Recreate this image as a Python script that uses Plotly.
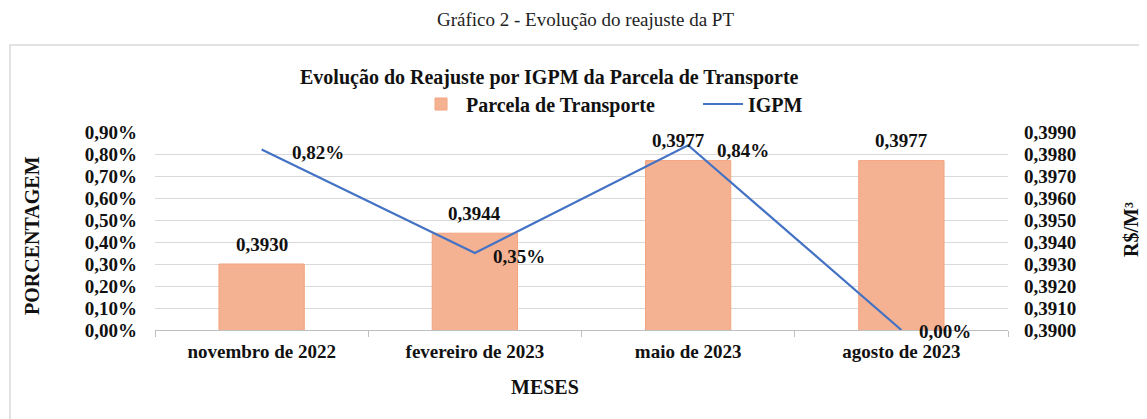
import plotly.graph_objects as go

categorias = ["novembro de 2022", "fevereiro de 2023", "maio de 2023", "agosto de 2023"]
parcela_transporte = [0.3930, 0.3944, 0.3977, 0.3977]   # R$/M³
igpm = [0.0082, 0.0035, 0.0084, 0.0000]                  # fraction (0,82%)

# label offsets (style only)
igpm_label_dx = [28, 16, 27, 16]
igpm_label_dy = [-3, -3, -5, -1]
bar_label_dx = [0, 0, -10, 0]

FONT = "Liberation Serif"
OFF = 8                       # browser body margin
W, H = 1147 - OFF, 419 - OFF
PX0, PX1, PY0, PY1 = 155, 1008, 132, 330   # plot area in reference pixels
L, R = PX0 - OFF, W - (PX1 - OFF)
T, B = PY0 - OFF, H - (PY1 - OFF)
pw, ph = PX1 - PX0, PY1 - PY0

def px_x(x):
    return (x - PX0) / pw

def px_y(y):
    return (PY1 - y) / ph

INK = "#111111"
fb = lambda s: dict(family=FONT, size=s, color=INK, weight="bold")

fig = go.Figure()
fig.add_trace(go.Bar(
    x=categorias, y=parcela_transporte, name="Parcela de Transporte",
    yaxis="y", width=0.4,
    marker=dict(color="#F5B292", line=dict(color="#F2A47F", width=1)),
    hoverinfo="skip",
))
fig.add_trace(go.Scatter(
    x=categorias, y=igpm, name="IGPM", mode="lines",
    yaxis="y2",
    line=dict(color="#4472C4", width=2.2),
))

# data labels
for c, v, dx in zip(categorias, parcela_transporte, bar_label_dx):
    fig.add_annotation(x=c, y=v, xref="x", yref="y", showarrow=False,
                       text=f"{v:.4f}".replace(".", ","), xanchor="center",
                       yanchor="middle", yshift=20, xshift=dx, font=fb(19))
for c, v, dx, dy in zip(categorias, igpm, igpm_label_dx, igpm_label_dy):
    fig.add_annotation(x=c, y=v, xref="x", yref="y2", showarrow=False,
                       text=f"{v*100:.2f}%".replace(".", ","), xanchor="left",
                       yanchor="middle", xshift=dx, yshift=dy, font=fb(19))

fig.update_layout(
    width=W, height=H,
    margin=dict(l=L, r=R, t=T, b=B, autoexpand=False),
    paper_bgcolor="white", plot_bgcolor="white",
    separators=",.",
    font=fb(19),
    showlegend=True,
    legend=dict(orientation="h", x=px_x(416), xanchor="left",
                y=px_y(104), yanchor="middle",
                font=fb(20), itemwidth=40, entrywidth=227,
                bgcolor="rgba(0,0,0,0)"),
    xaxis=dict(type="category", showgrid=False, showline=True,
               linecolor="#BFBFBF", linewidth=1, ticks="outside",
               tickson="boundaries", ticklen=6, tickcolor="#BFBFBF",
               ticklabelstandoff=4, tickfont=fb(19)),
    yaxis=dict(range=[0.39, 0.399], dtick=0.001, tickformat=".4f",
               side="right", showgrid=True, gridcolor="#D9D9D9", gridwidth=1,
               zeroline=False, showline=False, ticks="",
               ticklabelstandoff=15, tickfont=fb(19)),
    yaxis2=dict(range=[0, 0.009], dtick=0.001, tickformat=".2%",
                overlaying="y", side="left", showgrid=False,
                zeroline=False, showline=False, ticks="",
                ticklabelstandoff=17, tickfont=fb(19)),
    bargap=0.6,
)

# Outer box
fig.add_shape(type="rect", xref="paper", yref="paper",
              x0=px_x(10), x1=px_x(1140), y0=px_y(440), y1=px_y(45),
              line=dict(color="#D9D9D9", width=1.5), fillcolor="rgba(0,0,0,0)",
              layer="below")

anns = [
    dict(text="Gráfico 2 - Evolução do reajuste da PT", x=px_x(585), y=px_y(19),
         font=dict(family=FONT, size=19, color="#222222", weight="normal")),
    dict(text="Evolução do Reajuste por IGPM da Parcela de Transporte",
         x=px_x(549), y=px_y(77), font=fb(20)),
    dict(text="PORCENTAGEM", x=px_x(32), y=px_y(235), textangle=-90, font=fb(20)),
    dict(text="R$/M³", x=px_x(1131), y=px_y(230), textangle=-90, font=fb(20)),
    dict(text="MESES", x=px_x(545), y=px_y(387), font=fb(20)),
]
for a in anns:
    fig.add_annotation(xref="paper", yref="paper", showarrow=False,
                       xanchor="center", yanchor="middle", **a)

fig.write_html("out.html")
